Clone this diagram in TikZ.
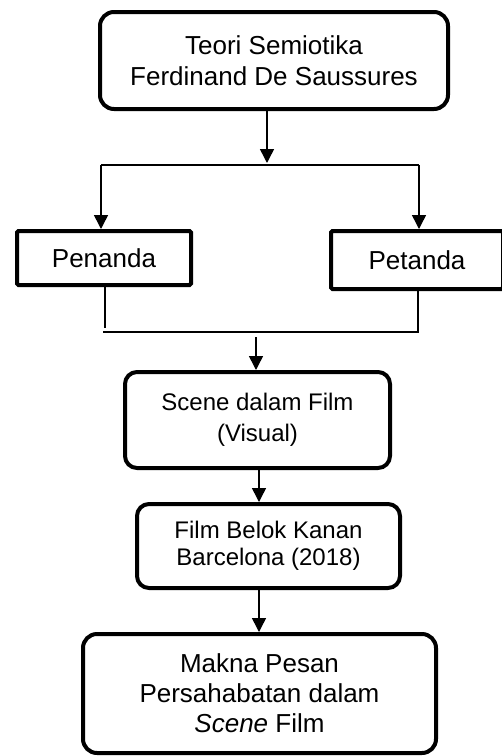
\documentclass[tikz,border=0pt]{standalone}
\usepackage{fontspec}
\setmainfont{Liberation Sans}
\usetikzlibrary{arrows.meta}
\begin{document}
\begin{tikzpicture}[x=1pt,y=-1pt,
  rbox/.style={draw, line width=4pt, rounded corners=14pt, inner sep=0pt, align=center},
  sbox/.style={draw, line width=4pt, rounded corners=1.5pt, inner sep=0pt, align=center},
  big/.style={font=\fontsize{26}{31}\selectfont},
  mid/.style={font=\fontsize{24}{31}\selectfont},
  conn/.style={line width=1.5pt},
  arr/.style={line width=1.5pt, -{Triangle[length=14pt,width=14pt]}}]
\useasboundingbox (0,0) rectangle (502,756);
\node[rbox, big, minimum width=348pt, minimum height=97pt] (top) at (274,60.5) {Teori Semiotika\\Ferdinand De Saussures};
\node[sbox, big, minimum width=174pt, minimum height=54pt] (pen) at (104,258) {Penanda};
\node[sbox, big, minimum width=172pt, minimum height=58pt] (pet) at (417,260) {Petanda};
\node[rbox, mid, rounded corners=12pt, minimum width=265pt, minimum height=96pt] (scene) at (257.5,420) {Scene dalam Film\\(Visual)};
\node[rbox, mid, font=\fontsize{24}{27}\selectfont, rounded corners=12pt, minimum width=263pt, minimum height=84pt] (film) at (268.5,546) {Film Belok Kanan\\Barcelona (2018)};
\node[rbox, font=\fontsize{26}{30}\selectfont, minimum width=353pt, minimum height=119pt] (bot) at (259.5,693.5) {Makna Pesan\\Persahabatan dalam\\\textit{Scene} Film};
% top to split
\coordinate (a1) at (267,163);
\draw[arr] (a1 |- top.south) -- (a1);
\coordinate (hl) at (101,165);
\coordinate (hr) at (419,165);
\draw[conn] (hl) -- (hr);
\draw[arr] (hl) -- (hl |- pen.north);
\draw[arr] (hr) -- (hr |- pet.north);
% join
\coordinate (jl) at (105,328);
\coordinate (jl2) at (103,332);
\coordinate (jr) at (418,332);
\draw[conn] (jl |- pen.south) -- (jl);
\draw[conn] (jl2) -- (jr) -- (jr |- pet.south);
\coordinate (a3) at (256,337);
\draw[arr] (a3) -- (a3 |- scene.north);
\coordinate (a4) at (259,0);
\draw[arr] (a4 |- scene.south) -- (a4 |- film.north);
\draw[arr] (a4 |- film.south) -- (a4 |- bot.north);
\end{tikzpicture}
\end{document}
